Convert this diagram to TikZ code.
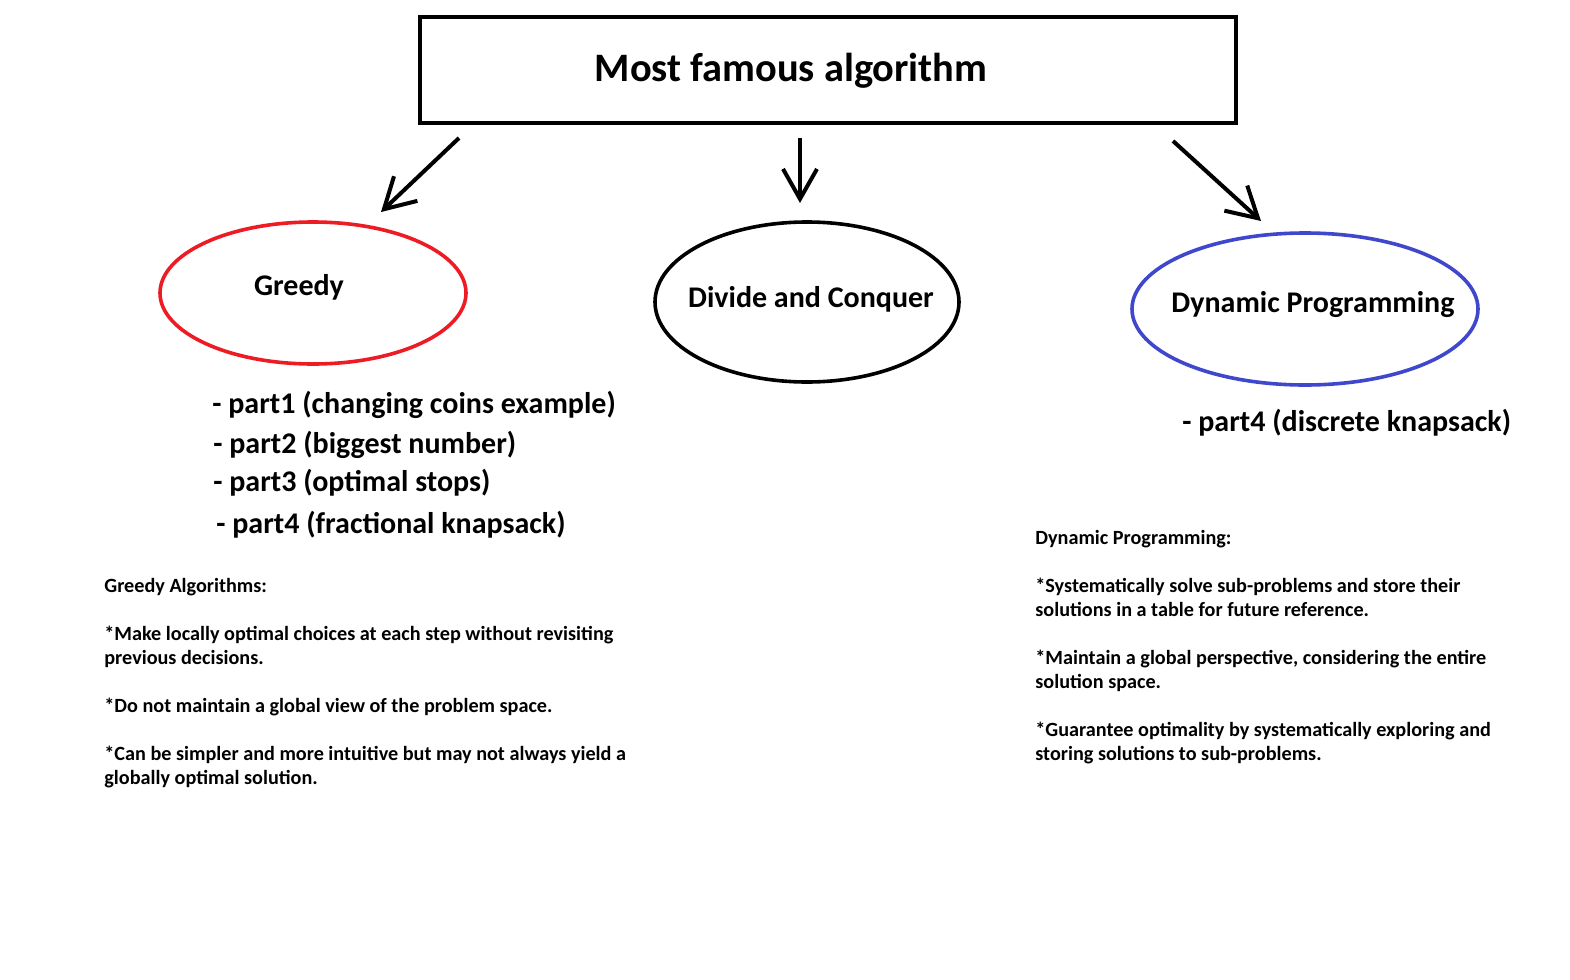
\documentclass[tikz,border=0pt]{standalone}
\usepackage{fontspec}
\setmainfont{Carlito}
\usetikzlibrary{arrows.meta,shapes.geometric}
\definecolor{paintred}{RGB}{237,28,36}
\definecolor{paintblue}{RGB}{63,72,204}

\begin{document}
\begin{tikzpicture}[x=0.5pt,y=-0.5pt,
		algo/.style={ellipse, line width=1.8pt, inner sep=0pt},
		algotext/.style={font=\bfseries\fontsize{15}{17}\selectfont},
		part/.style={anchor=west, inner sep=0pt, font=\bfseries\fontsize{15}{17}\selectfont},
		note/.style={anchor=base west, align=left, inner sep=0pt, font=\bfseries\fontsize{10.1}{12}\selectfont},
		down/.style={line width=2pt, -{Straight Barb[length=15pt,width=17pt]}}]
				\useasboundingbox (0,0) rectangle (1570,980);
				\node[draw, line width=2pt, minimum width=408pt, minimum height=53pt,
					label={[font=\bfseries\fontsize{20.2}{22}\selectfont, shift={(-18.5pt,-0.5pt)}]center:Most famous algorithm}] (title) at (828,70) {};
				
				\node[algo, draw=paintred, minimum width=153pt, minimum height=71pt,
					label={[algotext, shift={(-7pt,3pt)}]center:Greedy}] (greedy) at (313,293) {};
				\node[algo, draw=black, minimum width=152pt, minimum height=80pt,
					label={[algotext, shift={(2pt,1.5pt)}]center:Divide and Conquer}] (divide) at (807,302) {};
				\node[algo, draw=paintblue, minimum width=173pt, minimum height=76pt,
					label={[algotext, shift={(4pt,2pt)}]center:Dynamic Programming}] (dynamic) at (1305,309) {};
				
				\coordinate (gfrom) at (459,138); \coordinate (gto) at (381,212);
				\coordinate (dfrom) at (800,138); \coordinate (dto) at (800,203);
				\coordinate (pfrom) at (1173,141); \coordinate (pto) at (1261,221);
				\draw[down] (gfrom) -- (gto);
				\draw[down] (dfrom) -- (dto);
				\draw[down] (pfrom) -- (pto);
				
				\node[part] (gp1) at (212,405) {- part1 (changing coins example)};
				\node[part] (gp2) at (213,445) {- part2 (biggest number)};
				\node[part] (gp3) at (213,483) {- part3 (optimal stops)};
				\node[part] (gp4) at (216,525) {- part4 (fractional knapsack)};
				\node[part] (dp4) at (1182,423) {- part4 (discrete knapsack)};
				
				\node[note] (gnote) at (104,784) {Greedy Algorithms:\\[12pt]
					*Make locally optimal choices at each step without revisiting\\
					previous decisions.\\[12pt]
					*Do not maintain a global view of the problem space.\\[12pt]
					*Can be simpler and more intuitive but may not always yield a\\
					globally optimal solution.};
				\node[note] (pnote) at (1035,760) {Dynamic Programming:\\[12pt]
					*Systematically solve sub-problems and store their\\
					solutions in a table for future reference.\\[12pt]
					*Maintain a global perspective, considering the entire\\
					solution space.\\[12pt]
					*Guarantee optimality by systematically exploring and\\
					storing solutions to sub-problems.};
			\end{tikzpicture}
\end{document}
